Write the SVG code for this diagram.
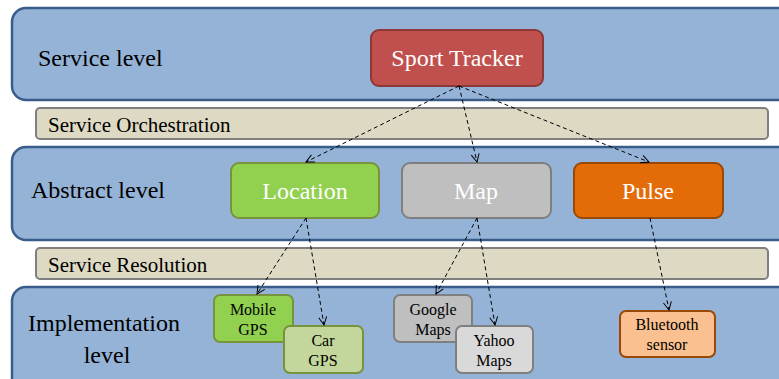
<svg xmlns="http://www.w3.org/2000/svg" width="779" height="379" viewBox="0 0 779 379">
<defs>
<marker id="arr" markerWidth="10" markerHeight="10" refX="9" refY="5" orient="auto" markerUnits="userSpaceOnUse">
<path d="M1,1 L9,5 L1,9" fill="none" stroke="#000" stroke-width="1"/>
</marker>
<style>
.band{fill:#95b3d7;stroke:#385d8a;stroke-width:2.5;}
.bar{fill:#ddd9c3;stroke:#7f7f7f;stroke-width:2;}
.lbl{font-size:24px;fill:#000;}
.barlbl{font-size:21px;fill:#000;}
.big{font-size:24px;fill:#fff;text-anchor:middle;}
.small{font-size:16px;fill:#000;text-anchor:middle;}
.conn{fill:none;stroke:#000;stroke-width:1;stroke-dasharray:4,3;marker-end:url(#arr);}
</style>
</defs>
<rect width="779" height="379" fill="#fff"/>
<g id="layers">
<rect class="band" x="12" y="8" width="800" height="92" rx="14"/>
<text class="lbl" font-family="Liberation Serif" x="38" y="66">Service level</text>
<rect class="bar" x="36" y="108" width="732" height="31" rx="4"/>
<text class="barlbl" font-family="Liberation Serif" x="48" y="132">Service Orchestration</text>
<rect class="band" x="12" y="147" width="800" height="93" rx="14"/>
<text class="lbl" font-family="Liberation Serif" x="31" y="198">Abstract level</text>
<rect class="bar" x="36" y="248" width="732" height="31" rx="4"/>
<text class="barlbl" font-family="Liberation Serif" x="48" y="272">Service Resolution</text>
<rect class="band" x="12" y="287" width="800" height="110" rx="14"/>
<text class="lbl" font-family="Liberation Serif" x="28" y="331">Implementation</text>
<text class="lbl" font-family="Liberation Serif" x="107" y="363" text-anchor="middle">level</text>
</g>
<g id="sport-tracker">
<rect x="371" y="30" width="172" height="56" rx="8" fill="#c0504d" stroke="#8c3836" stroke-width="2"/>
<text class="big" font-family="Liberation Serif" x="457" y="66">Sport Tracker</text>
</g>
<g id="location">
<rect x="231" y="163" width="148" height="55" rx="8" fill="#92d050" stroke="#77933c" stroke-width="2"/>
<text class="big" font-family="Liberation Serif" x="305" y="199">Location</text>
</g>
<g id="map">
<rect x="402" y="163" width="149" height="55" rx="8" fill="#bfbfbf" stroke="#7f7f7f" stroke-width="2"/>
<text class="big" font-family="Liberation Serif" x="476" y="199">Map</text>
</g>
<g id="pulse">
<rect x="574" y="163" width="149" height="55" rx="8" fill="#e36c09" stroke="#984807" stroke-width="2"/>
<text class="big" font-family="Liberation Serif" x="648" y="199">Pulse</text>
</g>
<g id="mobile-gps">
<rect x="214" y="295" width="79" height="47" rx="6" fill="#92d050" stroke="#77933c" stroke-width="2"/>
<text class="small" font-family="Liberation Serif" x="253" y="315">Mobile</text>
<text class="small" font-family="Liberation Serif" x="253" y="335">GPS</text>
</g>
<g id="car-gps">
<rect x="284" y="326" width="79" height="47" rx="6" fill="#c3d69b" stroke="#77933c" stroke-width="2"/>
<text class="small" font-family="Liberation Serif" x="323" y="346">Car</text>
<text class="small" font-family="Liberation Serif" x="323" y="366">GPS</text>
</g>
<g id="google-maps">
<rect x="394" y="295" width="78" height="47" rx="6" fill="#bfbfbf" stroke="#7f7f7f" stroke-width="2"/>
<text class="small" font-family="Liberation Serif" x="433" y="315">Google</text>
<text class="small" font-family="Liberation Serif" x="433" y="335">Maps</text>
</g>
<g id="yahoo-maps">
<rect x="456" y="326" width="77" height="47" rx="6" fill="#d9d9d9" stroke="#7f7f7f" stroke-width="2"/>
<text class="small" font-family="Liberation Serif" x="494" y="346">Yahoo</text>
<text class="small" font-family="Liberation Serif" x="494" y="366">Maps</text>
</g>
<g id="bluetooth-sensor">
<rect x="620" y="311" width="95" height="46" rx="6" fill="#fac08f" stroke="#984807" stroke-width="2"/>
<text class="small" font-family="Liberation Serif" x="667" y="330">Bluetooth</text>
<text class="small" font-family="Liberation Serif" x="667" y="350">sensor</text>
</g>
<g id="connectors">
<line class="conn" x1="459" y1="86" x2="306" y2="162"/>
<line class="conn" x1="459" y1="86" x2="477" y2="162"/>
<line class="conn" x1="459" y1="86" x2="649" y2="162"/>
<line class="conn" x1="306" y1="218" x2="257" y2="294"/>
<line class="conn" x1="306" y1="218" x2="324" y2="325"/>
<line class="conn" x1="477" y1="218" x2="436" y2="294"/>
<line class="conn" x1="477" y1="218" x2="495" y2="325"/>
<line class="conn" x1="650" y1="218" x2="669" y2="310"/>
</g>
</svg>
